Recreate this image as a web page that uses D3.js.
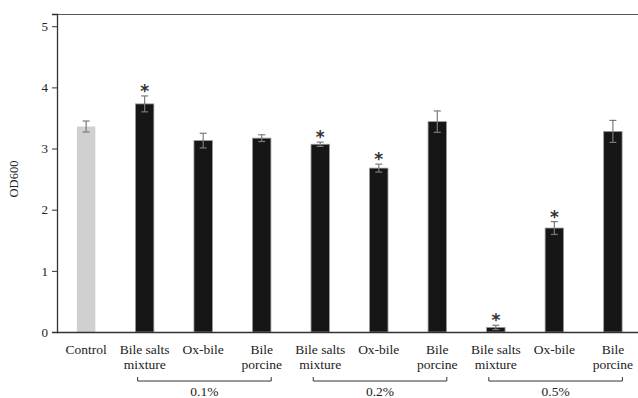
<!DOCTYPE html>
<html>
<head>
<meta charset="utf-8">
<script src="https://cdn.jsdelivr.net/npm/d3@7"></script>
<style>
  body { margin: 0; background: #fff; }
  svg { display: block; }
  text { font-family: "Liberation Serif", "Times New Roman", serif; fill: #222; }
</style>
</head>
<body>
<svg id="chart" width="638" height="398"></svg>
<script>
// Treatments (first line / second line of each axis label)
const labelTop = ["Control", "Bile salts", "Ox-bile", "Bile", "Bile salts", "Ox-bile", "Bile", "Bile salts", "Ox-bile", "Bile"];
const labelBottom = ["", "mixture", "", "porcine", "mixture", "", "porcine", "mixture", "", "porcine"];
// Mean OD600 and standard deviation per treatment
const od600 = [3.36, 3.73, 3.13, 3.17, 3.07, 2.68, 3.44, 0.075, 1.70, 3.28];
const sd = [0.09, 0.13, 0.12, 0.055, 0.035, 0.065, 0.175, 0.035, 0.105, 0.18];
// Significant difference from control
const significant = [false, true, false, false, true, true, false, true, true, false];
// Concentration groups: first and last treatment index
const groupNames = ["0.1%", "0.2%", "0.5%"];
const groupStart = [1, 4, 7];
const groupEnd = [3, 6, 9];
const yTicks = [0, 1, 2, 3, 4, 5];

const svg = d3.select("#chart");
const mLeft = 57, mRight = 642, mTop = 14, mBottom = 332;
const ids = d3.range(od600.length);

const x = d3.scaleBand().domain(ids).range([mLeft, mRight]).paddingInner(0.685).paddingOuter(0.34);
const y = d3.scaleLinear().domain([0, 5.2]).range([mBottom, mTop]);

// Frame top line
svg.append("line")
  .attr("x1", mLeft).attr("x2", 638).attr("y1", mTop + 0.5).attr("y2", mTop + 0.5)
  .attr("stroke", "#555").attr("stroke-width", 1.2);

// Bars
svg.selectAll("rect.bar").data(ids).join("rect")
  .attr("class", "bar")
  .attr("x", i => x(i))
  .attr("y", i => y(od600[i]))
  .attr("width", x.bandwidth())
  .attr("height", i => y(0) - y(od600[i]))
  .attr("fill", i => i === 0 ? "#cfd0cf" : "#161616")
  .attr("stroke", i => i === 0 ? "none" : "#9a9a9a")
  .attr("stroke-width", 0.8);

// Error bars
const cx = i => x(i) + x.bandwidth() / 2;
const eb = svg.append("g").attr("stroke", "#7a7a7a").attr("stroke-width", 1.2);
ids.forEach(i => {
  const hi = y(od600[i] + sd[i]), lo = y(od600[i] - sd[i]);
  eb.append("line").attr("x1", cx(i)).attr("x2", cx(i)).attr("y1", hi).attr("y2", lo);
  eb.append("line").attr("x1", cx(i) - 3.5).attr("x2", cx(i) + 3.5).attr("y1", hi).attr("y2", hi);
  eb.append("line").attr("x1", cx(i) - 3.5).attr("x2", cx(i) + 3.5).attr("y1", lo).attr("y2", lo);
});

// Significance marks
svg.selectAll("text.sig").data(ids.filter(i => significant[i])).join("text")
  .attr("class", "sig")
  .attr("x", i => cx(i))
  .attr("y", i => y(od600[i] + sd[i]) + 1)
  .attr("text-anchor", "middle")
  .style("font-family", "'DejaVu Sans', sans-serif")
  .style("font-size", "17px")
  .style("font-weight", "bold")
  .style("fill", "#333")
  .text("*");

// Y axis
const yAxis = svg.append("g")
  .attr("transform", `translate(${mLeft},0)`)
  .call(d3.axisLeft(y).tickValues(yTicks).tickSize(5).tickFormat(d3.format("d")));
yAxis.select(".domain").attr("stroke", "#333").attr("stroke-width", 1.3);
yAxis.selectAll(".tick line").attr("stroke", "#333");
yAxis.selectAll(".tick text").style("font-size", "13px").style("font-family", "'Liberation Serif', serif").attr("fill", "#333").attr("x", -9);

// X baseline
svg.append("line")
  .attr("x1", mLeft).attr("x2", 638).attr("y1", mBottom + 0.5).attr("y2", mBottom + 0.5)
  .attr("stroke", "#333").attr("stroke-width", 1.3);

// Category labels
const cat = svg.append("g").style("font-size", "13.5px");
ids.forEach(i => {
  cat.append("text").attr("x", cx(i)).attr("y", 354).attr("text-anchor", "middle").text(labelTop[i]);
  if (labelBottom[i]) cat.append("text").attr("x", cx(i)).attr("y", 369).attr("text-anchor", "middle").text(labelBottom[i]);
});

// Concentration brackets
groupNames.forEach((g, k) => {
  const x0 = cx(groupStart[k]) - 7, x1 = cx(groupEnd[k]) + 9.5, yb = 381;
  svg.append("path")
    .attr("d", `M${x0},${yb - 4}V${yb}H${x1}V${yb - 4}`)
    .attr("fill", "none").attr("stroke", "#333").attr("stroke-width", 1);
  svg.append("text").attr("x", (x0 + x1) / 2).attr("y", 396)
    .attr("text-anchor", "middle").style("font-size", "13.5px").text(g);
});

// Y axis title
svg.append("text")
  .attr("transform", `translate(18,${(mTop + mBottom) / 2 + 6}) rotate(-90)`)
  .attr("text-anchor", "middle")
  .style("font-size", "12.5px")
  .text("OD600");
</script>
</body>
</html>
